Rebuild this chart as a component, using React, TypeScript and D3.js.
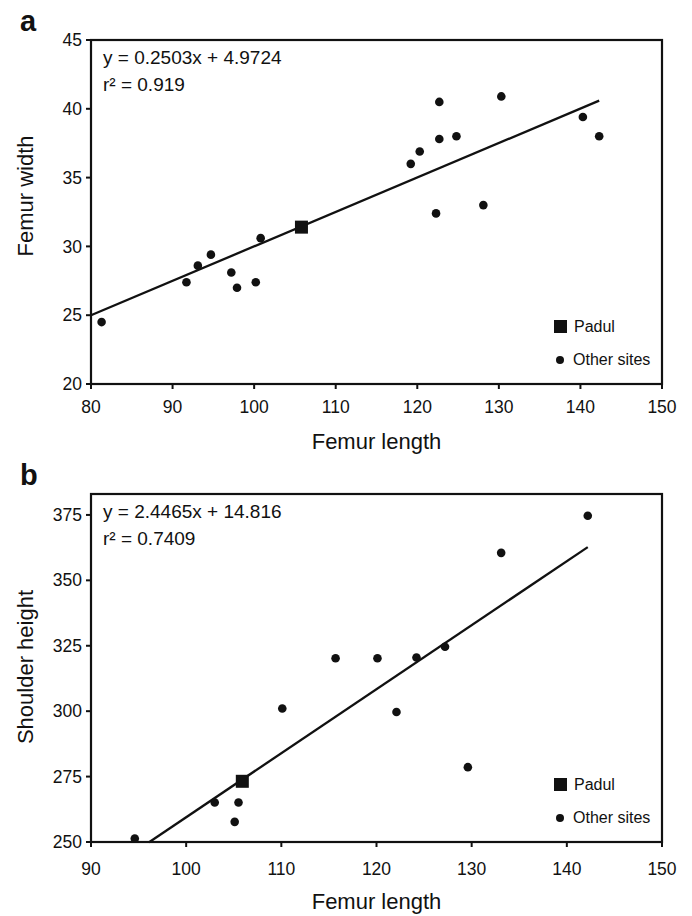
import React from 'react';
import * as d3 from 'd3';

const FONT = '"Liberation Sans", Arial, Helvetica, sans-serif';

// panel a: femur length vs femur width
const lengthA = [81.3, 91.7, 93.1, 94.7, 97.2, 97.9, 100.2, 100.8, 119.2, 120.3, 122.7, 122.7, 124.8, 122.3, 128.1, 130.3, 140.3, 142.3];
const widthA = [24.5, 27.4, 28.6, 29.4, 28.1, 27.0, 27.4, 30.6, 36.0, 36.9, 40.5, 37.8, 38.0, 32.4, 33.0, 40.9, 39.4, 38.0];
const padulA = [105.8, 31.4];
const fitA = [0.2503, 4.9724];
const fitRangeA = [80, 142.3];
const xTicksA = [80, 90, 100, 110, 120, 130, 140, 150];
const yTicksA = [20, 25, 30, 35, 40, 45];

// panel b: femur length vs shoulder height
const lengthB = [94.6, 103.0, 105.1, 105.5, 110.1, 115.7, 120.1, 122.1, 124.2, 127.2, 129.6, 133.1, 142.2];
const heightB = [251.3, 265.1, 257.7, 265.1, 301.0, 320.2, 320.2, 299.7, 320.5, 324.6, 278.6, 360.5, 374.7];
const padulB = [105.9, 273.2];
const fitB = [2.4465, 14.816];
const fitRangeB = [96.1, 142.2];
const xTicksB = [90, 100, 110, 120, 130, 140, 150];
const yTicksB = [250, 275, 300, 325, 350, 375];

const legendLabels = ['Padul', 'Other sites'];

function Panel(props: any) {
  const { label, top, bottom, xDomain, yDomain, xTicks, yTicks, xs, ys, padul, fit, fitRange,
    eq, r2, yTitle, tickLabelDy, xTitleY, yTitleCenter } = props;
  const left = 91;
  const right = 662;
  const x = d3.scaleLinear().domain(xDomain).range([left, right]);
  const y = d3.scaleLinear().domain(yDomain).range([bottom, top]);
  const line = d3.line<number>()
    .x((d) => x(d))
    .y((d) => y(fit[0] * d + fit[1]));
  const pts = d3.range(xs.length);

  return (
    <g fontFamily={FONT} fill="#111">
      <text x={20} y={top - 9} fontSize={29} fontWeight="bold">{label}</text>

      <path d={line(fitRange) || ''} stroke="#111" strokeWidth={2.3} fill="none" />

      {pts.map((i) => (
        <circle key={i} cx={x(xs[i])} cy={y(ys[i])} r={4.3} fill="#111" />
      ))}
      <rect x={x(padul[0]) - 6.5} y={y(padul[1]) - 6.5} width={13} height={13} fill="#111" />

      <rect x={left} y={top} width={right - left} height={bottom - top}
        fill="none" stroke="#111" strokeWidth={2.2} />

      {yTicks.map((t: number) => (
        <g key={'y' + t}>
          <line x1={left - 5} x2={left} y1={y(t)} y2={y(t)} stroke="#111" strokeWidth={2} />
          <text x={left - 9} y={y(t)} dy="0.35em" fontSize={17.5} textAnchor="end">{t}</text>
        </g>
      ))}
      {xTicks.map((t: number) => (
        <g key={'x' + t}>
          <line x1={x(t)} x2={x(t)} y1={bottom} y2={bottom + 5} stroke="#111" strokeWidth={2} />
          <text x={x(t)} y={bottom + tickLabelDy} fontSize={17.5} textAnchor="middle">{t}</text>
        </g>
      ))}

      <text x={103} y={top + 24} fontSize={19}>{eq}</text>
      <text x={103} y={top + 51} fontSize={19}>{'r² = ' + r2}</text>

      <rect x={554} y={bottom - 64} width={13} height={13} fill="#111" />
      <text x={574} y={bottom - 52} fontSize={16}>{legendLabels[0]}</text>
      <circle cx={560} cy={bottom - 24} r={4} fill="#111" />
      <text x={573} y={bottom - 19} fontSize={16}>{legendLabels[1]}</text>

      <text x={(left + right) / 2} y={xTitleY} fontSize={22} textAnchor="middle">Femur length</text>
      <text transform={`translate(33,${yTitleCenter}) rotate(-90)`} fontSize={22} textAnchor="middle">{yTitle}</text>
    </g>
  );
}

export default function App() {
  return (
    <svg width={692} height={916} style={{ position: 'absolute', left: 0, top: 0, background: '#fff' }}>
      <rect width={692} height={916} fill="#fff" />
      <Panel label="a" top={40} bottom={384} xDomain={[80, 150]} yDomain={[20, 45]}
        xTicks={xTicksA} yTicks={yTicksA} xs={lengthA} ys={widthA} padul={padulA}
        fit={fitA} fitRange={fitRangeA} eq="y = 0.2503x + 4.9724" r2="0.919"
        yTitle="Femur width" tickLabelDy={29} xTitleY={449} yTitleCenter={196} />
      <Panel label="b" top={494} bottom={842} xDomain={[90, 150]} yDomain={[250, 383]}
        xTicks={xTicksB} yTicks={yTicksB} xs={lengthB} ys={heightB} padul={padulB}
        fit={fitB} fitRange={fitRangeB} eq="y = 2.4465x + 14.816" r2="0.7409"
        yTitle="Shoulder height" tickLabelDy={33} xTitleY={909} yTitleCenter={667} />
    </svg>
  );
}
